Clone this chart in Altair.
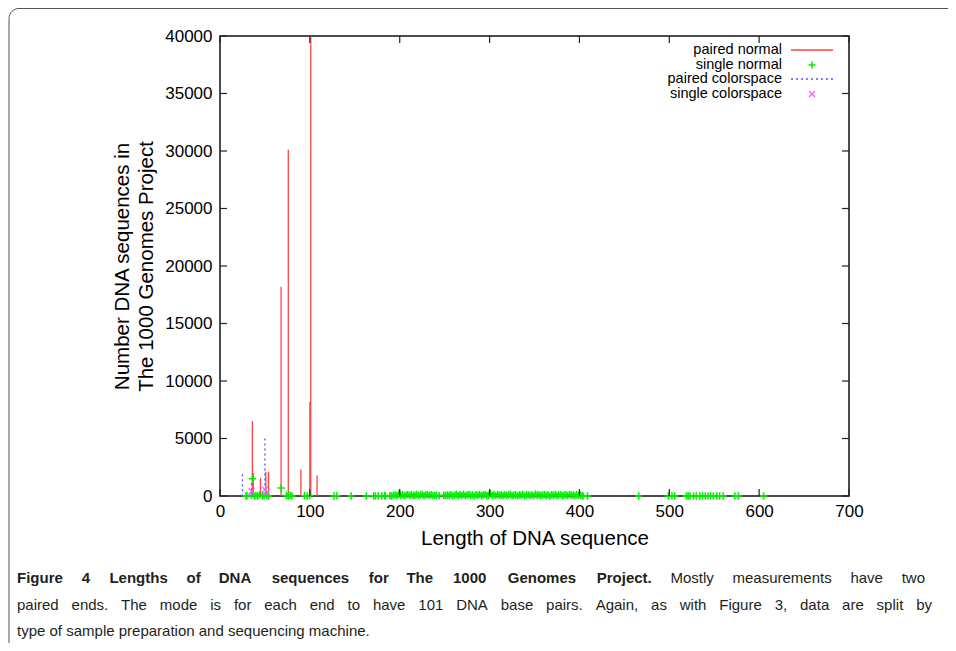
import altair as alt
import pandas as pd

# ---------------- data ----------------
paired_normal_len = [36, 37, 45, 51, 54, 68, 76, 90, 100, 101, 108]
paired_normal_count = [6500, 2000, 1550, 2100, 2100, 18200, 30100, 2300, 8200, 40000, 1800]

paired_colorspace_len = [25, 35, 50]
paired_colorspace_count = [1900, 1100, 5000]

single_colorspace_len = [35, 50, 52]
single_colorspace_count = [400, 550, 300]

single_normal = [
    (36, 1500), (68, 700),
    (29, 30), (30, 0), (35, 60), (38, 0), (40, 40), (42, 0), (44, 80), (47, 20), (49, 0),
    (52, 50), (54, 0), (74, 40), (76, 0), (78, 60), (80, 0), (94, 30), (97, 0), (100, 50),
    (127, 0), (130, 20), (146, 0), (163, 0), (171, 30), (173, 0), (176, 20), (180, 0),
    (183, 40), (184, 0), (189, 20), (191, 0),
    (193, 40), (195, 90), (197, 20), (199, 150), (201, 60), (203, 110), (205, 30), (207, 80),
    (209, 140), (211, 50), (213, 100), (215, 20), (217, 70), (219, 130), (221, 40), (223, 90),
    (225, 160), (227, 30), (229, 80), (231, 120), (233, 50), (235, 100), (237, 20), (239, 70),
    (241, 40), (244, 30),
    (249, 60), (251, 20), (253, 90), (255, 40), (257, 120), (259, 10), (261, 70), (263, 140),
    (265, 30), (267, 100), (269, 50), (271, 160), (273, 20), (275, 80), (277, 130), (279, 40),
    (281, 90), (283, 10), (285, 110), (287, 60), (289, 150), (291, 30), (293, 80), (295, 120),
    (297, 20), (299, 70), (301, 200), (303, 50), (305, 100), (307, 30), (309, 140), (311, 60),
    (313, 90), (315, 20), (317, 120), (319, 40), (321, 80), (323, 150), (325, 30), (327, 70),
    (329, 110), (331, 20), (333, 90), (335, 50), (337, 130), (339, 10), (341, 80), (343, 120),
    (345, 40), (347, 90), (349, 20), (351, 150), (353, 60), (355, 100), (357, 30), (359, 80),
    (361, 130), (363, 40), (365, 90), (367, 10), (369, 110), (371, 60), (373, 140), (375, 30),
    (377, 80), (379, 120), (381, 20), (383, 70), (385, 100), (387, 40), (389, 130), (391, 60),
    (393, 90), (395, 20), (397, 110), (399, 50), (401, 80), (403, 30),
    (404, 0), (409, 0), (466, 0), (499, 0), (503, 0), (506, 0), (519, 0), (521, 0), (523, 0),
    (527, 0), (530, 0), (534, 0), (537, 0), (540, 0), (543, 0), (546, 0), (549, 0), (553, 0),
    (556, 0), (560, 0), (573, 0), (577, 0), (605, 0),
]

x_ticks = [0, 100, 200, 300, 400, 500, 600, 700]
y_ticks = [0, 5000, 10000, 15000, 20000, 25000, 30000, 35000, 40000]

legend_labels = ["paired normal", "single normal", "paired colorspace", "single colorspace"]

caption_bold = "Figure 4 Lengths of DNA sequences for The 1000 Genomes Project."
caption_lines = [
    "Mostly measurements have two",
    "paired ends. The mode is for each end to have 101 DNA base pairs. Again, as with Figure 3, data are split by",
    "type of sample preparation and sequencing machine.",
]

# ---------------- layout ----------------
W, H = 629, 460
PAD_L, PAD_T = 212, 28
AX_FONT = "Liberation Sans"
CAP_FONT = "Liberation Sans"
CAP_SIZE = 15
CAP_COLOR = "#231f20"

RED = "#ff4545"
GREEN = "#00ee00"
BLUE = "#5555ff"
MAGENTA = "#ff55ff"

PLUS = "M-1,0L1,0M0,-1L0,1"
CROSS = "M-1,-1L1,1M-1,1L1,-1"

xs = alt.Scale(domain=[0, 700], nice=False, zero=False)
ys = alt.Scale(domain=[0, 40000], nice=False)

xaxis = alt.Axis(values=x_ticks, ticks=False, domain=False, grid=False, labelFlush=False,
                 labelFont=AX_FONT, labelFontSize=17, labelColor="#000", labelPadding=7,
                 title="Length of DNA sequence", titleFont=AX_FONT, titleFontSize=20.5,
                 titleFontWeight="normal", titleColor="#000", titlePadding=9)
yaxis = alt.Axis(values=y_ticks, ticks=False, domain=False, grid=False, labelFlush=False,
                 format="d",
                 labelFont=AX_FONT, labelFontSize=17, labelColor="#000", labelPadding=8,
                 title=["Number DNA sequences in", "The 1000 Genomes Project"],
                 titleFont=AX_FONT, titleFontSize=20.5, titleLineHeight=24,
                 titleFontWeight="normal", titleColor="#000", titlePadding=8)

X = alt.X("len:Q", scale=xs, axis=xaxis)
Y = alt.Y("count:Q", scale=ys, axis=yaxis)

pn = pd.DataFrame({"len": paired_normal_len, "count": paired_normal_count})
pc = pd.DataFrame({"len": paired_colorspace_len, "count": paired_colorspace_count})
sc = pd.DataFrame({"len": single_colorspace_len, "count": single_colorspace_count})
sn = pd.DataFrame(single_normal, columns=["len", "count"])

l_pn = alt.Chart(pn).mark_rule(color=RED, strokeWidth=1.3).encode(x=X, y=Y, y2=alt.datum(0))
l_pc = alt.Chart(pc).mark_rule(color=BLUE, strokeWidth=1.3, strokeDash=[2, 3]).encode(
    x=X, y=Y, y2=alt.datum(0))
l_sn = alt.Chart(sn).mark_point(shape=PLUS, size=56, stroke=GREEN, strokeWidth=1.5,
                                filled=False, opacity=1).encode(x=X, y=Y)
l_sc = alt.Chart(sc).mark_point(shape=CROSS, size=36, stroke=MAGENTA, strokeWidth=1.2,
                                filled=False, opacity=1).encode(x=X, y=Y)

xt = pd.DataFrame({"len": x_ticks})
yt = pd.DataFrame({"count": y_ticks})
TK = dict(color="#222", strokeWidth=1.2)
t_bottom = alt.Chart(xt).mark_rule(**TK).encode(x=X, y=alt.value(H), y2=alt.value(H - 7))
t_top = alt.Chart(xt).mark_rule(**TK).encode(x=X, y=alt.value(0), y2=alt.value(7))
t_left = alt.Chart(yt).mark_rule(**TK).encode(y=Y, x=alt.value(0), x2=alt.value(7))
t_right = alt.Chart(yt).mark_rule(**TK).encode(y=Y, x=alt.value(W), x2=alt.value(W - 7))

one = pd.DataFrame({"a": [0]})

# legend (inside plot, top-right)
LEG_X = 562
LEG_Y = [14, 29, 43, 58]
leg_layers = []
for lab, yy in zip(legend_labels, LEG_Y):
    leg_layers.append(alt.Chart(one).mark_text(align="right", baseline="middle", font=AX_FONT,
                                               fontSize=14.5, color="#000").encode(
        x=alt.value(LEG_X), y=alt.value(yy), text=alt.value(lab)))
leg_layers.append(alt.Chart(one).mark_rule(color=RED, strokeWidth=1.3).encode(
    x=alt.value(571), x2=alt.value(613), y=alt.value(LEG_Y[0])))
leg_layers.append(alt.Chart(one).mark_point(shape=PLUS, size=49, stroke=GREEN, strokeWidth=1.5,
                                            filled=False, opacity=1).encode(
    x=alt.value(592), y=alt.value(LEG_Y[1])))
leg_layers.append(alt.Chart(one).mark_rule(color=BLUE, strokeWidth=1.3, strokeDash=[2, 3]).encode(
    x=alt.value(571), x2=alt.value(613), y=alt.value(LEG_Y[2])))
leg_layers.append(alt.Chart(one).mark_point(shape=CROSS, size=36, stroke=MAGENTA, strokeWidth=1.2,
                                            filled=False, opacity=1).encode(
    x=alt.value(592), y=alt.value(LEG_Y[3])))

# ---------------- caption (justified, word by word) ----------------
_AW = {c: 556 for c in "abdeghnopqu0123456789"}
_AW.update({"c": 500, "f": 278, "i": 222, "j": 222, "k": 500, "l": 222, "m": 833, "r": 333,
            "s": 500, "t": 278, "v": 500, "w": 722, "x": 500, "y": 500, "z": 500,
            ".": 278, ",": 278, " ": 278, "-": 333,
            "A": 667, "D": 722, "F": 611, "G": 778, "M": 833, "N": 722, "P": 667, "T": 611})


def est_width(word, size, bold=False):
    w = sum(_AW.get(ch, 600) for ch in word) / 1000.0 * size
    return w * (1.08 if bold else 1.0)


def page_x(px):
    return px - 8 - PAD_L


def page_y(py):
    return py - 8 - PAD_T


def word_layer(words, xs_, y, bold):
    df = pd.DataFrame({"w": words, "px": xs_})
    return alt.Chart(df).mark_text(align="left", baseline="middle", font=CAP_FONT,
                                   fontSize=CAP_SIZE, fontWeight="bold" if bold else "normal",
                                   color=CAP_COLOR).encode(
        x=alt.X("px:Q", scale=None), y=alt.value(y), text="w:N")


def justify(tokens, left, right):
    widths = [est_width(w, CAP_SIZE, b) for w, b in tokens]
    gap = (right - left - sum(widths)) / (len(tokens) - 1)
    pos, cur = [], left
    for wdt in widths:
        pos.append(cur)
        cur += wdt + gap
    return pos


cap_layers = []
L1 = [(w, True) for w in caption_bold.split()] + [(w, False) for w in caption_lines[0].split()]
p1 = justify(L1, page_x(17), page_x(925))
cap_layers.append(word_layer([w for w, b in L1 if b], [p for p, (w, b) in zip(p1, L1) if b],
                             page_y(578), True))
cap_layers.append(word_layer([w for w, b in L1 if not b], [p for p, (w, b) in zip(p1, L1) if not b],
                             page_y(578), False))
L2 = [(w, False) for w in caption_lines[1].split()]
p2 = justify(L2, page_x(17), page_x(932))
cap_layers.append(word_layer([w for w, b in L2], p2, page_y(605), False))
cap_layers.append(alt.Chart(one).mark_text(align="left", baseline="middle", font=CAP_FONT,
                                           fontSize=CAP_SIZE, color=CAP_COLOR).encode(
    x=alt.value(page_x(17)), y=alt.value(page_y(631)), text=alt.value(caption_lines[2])))

frame = alt.Chart(one).mark_rect(fillOpacity=0, stroke="#555", strokeWidth=1, cornerRadius=10).encode(
    x=alt.value(page_x(9)), x2=alt.value(780), y=alt.value(page_y(8.5)), y2=alt.value(660))

chart = alt.layer(
    l_pn, l_pc, l_sn, l_sc, t_bottom, t_top, t_left, t_right, *leg_layers, *cap_layers, frame
).properties(
    width=W, height=H,
    autosize=alt.AutoSizeParams(type="none"),
    padding={"left": PAD_L, "top": PAD_T, "right": 99, "bottom": 147},
    background="white",
).configure_view(stroke="#111", strokeWidth=1.5)

chart.save("out.html", embed_options={"renderer": "svg", "actions": False})
